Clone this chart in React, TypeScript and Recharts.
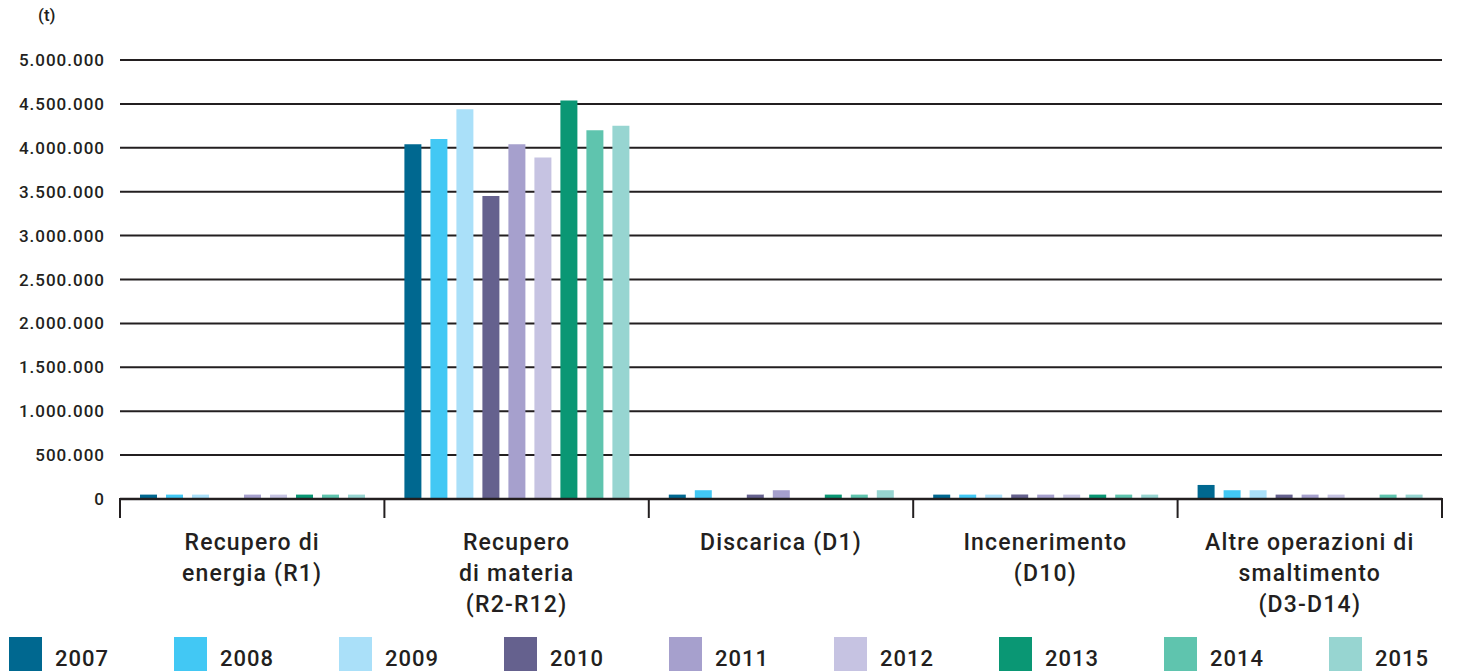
import { BarChart, Bar, XAxis, YAxis, CartesianGrid } from "recharts";

const categories = [
  "Recupero di\nenergia (R1)",
  "Recupero\ndi materia\n(R2-R12)",
  "Discarica (D1)",
  "Incenerimento\n(D10)",
  "Altre operazioni di\nsmaltimento\n(D3-D14)",
];

const years = ["2007", "2008", "2009", "2010", "2011", "2012", "2013", "2014", "2015"];

const y2007 = [50000, 4040000, 50000, 50000, 160000];
const y2008 = [50000, 4100000, 100000, 50000, 100000];
const y2009 = [50000, 4440000, 0, 50000, 100000];
const y2010 = [0, 3450000, 50000, 50000, 50000];
const y2011 = [50000, 4040000, 100000, 50000, 50000];
const y2012 = [50000, 3890000, 0, 50000, 50000];
const y2013 = [50000, 4540000, 50000, 50000, 0];
const y2014 = [50000, 4200000, 50000, 50000, 50000];
const y2015 = [50000, 4250000, 100000, 50000, 50000];

const yTicks = [0, 500000, 1000000, 1500000, 2000000, 2500000, 3000000, 3500000, 4000000, 4500000, 5000000];

const colors = [
  "#006890",
  "#42c8f4",
  "#aae0f9",
  "#65618e",
  "#a6a0cd",
  "#c6c3e2",
  "#0a9774",
  "#5fc4ae",
  "#97d5d1",
];

const series = [y2007, y2008, y2009, y2010, y2011, y2012, y2013, y2014, y2015];

const data = categories.map((category, i) => {
  const row: Record<string, string | number> = { category };
  years.forEach((yr, j) => {
    row[yr] = series[j][i];
  });
  return row;
});

const W = 1459;
const H = 671;
const LEFT = 120;
const RIGHT = 17;
const BAND = (W - LEFT - RIGHT) / categories.length;
const INK = "#231f20";
const FONT = "Roboto, 'DejaVu Sans', sans-serif";

const fmt = (v: number) => v.toString().replace(/\B(?=(\d{3})+(?!\d))/g, ".");

function CategoryTick(props: any) {
  const { x, y, payload, index } = props;
  const lines = String(payload.value).split("\n");
  return (
    <g>
      <line x1={x - BAND / 2} x2={x - BAND / 2} y1={y - 1} y2={y + 19} stroke={INK} strokeWidth={2} />
      {index === categories.length - 1 && (
        <line x1={x + BAND / 2} x2={x + BAND / 2} y1={y - 1} y2={y + 19} stroke={INK} strokeWidth={2} />
      )}
      <text
        x={x}
        y={y + 51}
        textAnchor="middle"
        fill={INK}
        fontSize={23}
        fontWeight={500}
        letterSpacing={1.2}
        fontFamily={FONT}
      >
        {lines.map((l, i) => (
          <tspan key={i} x={x} dy={i === 0 ? 0 : 31}>
            {l}
          </tspan>
        ))}
      </text>
    </g>
  );
}

export default function App() {
  return (
    <div style={{ position: "absolute", left: 0, top: 0, width: W, height: H, background: "#fff", fontFamily: FONT }}>
      <BarChart
        width={W}
        height={H}
        data={data}
        margin={{ top: 60, right: RIGHT, left: 0, bottom: 0 }}
        barSize={17}
        barGap={9}
      >
        <CartesianGrid vertical={false} stroke={INK} strokeWidth={2} />
        <XAxis
          dataKey="category"
          height={172}
          interval={0}
          tickLine={false}
          tickSize={0}
          tickMargin={0}
          axisLine={{ stroke: INK, strokeWidth: 2.5 }}
          tick={<CategoryTick />}
        />
        <YAxis
          width={LEFT}
          domain={[0, 5000000]}
          ticks={yTicks}
          tickFormatter={fmt}
          axisLine={false}
          tickLine={false}
          tickSize={0}
          tickMargin={15}
          tick={{ fill: INK, fontSize: 17, fontWeight: 500, letterSpacing: 1, fontFamily: FONT }}
        />
        {years.map((yr, j) => (
          <Bar key={yr} dataKey={yr} fill={colors[j]} isAnimationActive={false} />
        ))}
      </BarChart>
      <div style={{ position: "absolute", left: 38, top: 5, fontSize: 17, fontWeight: 500, color: INK }}>(t)</div>
      <div style={{ position: "absolute", left: 9, top: 637, display: "flex" }}>
        {years.map((yr, j) => (
          <div key={yr} style={{ width: 165, height: 34, position: "relative" }}>
            <div style={{ width: 33, height: 34, background: colors[j] }} />
            <span
              style={{
                position: "absolute",
                left: 46,
                top: 11,
                fontSize: 22,
                fontWeight: 500,
                letterSpacing: 1,
                color: INK,
                lineHeight: "22px",
              }}
            >
              {yr}
            </span>
          </div>
        ))}
      </div>
    </div>
  );
}
